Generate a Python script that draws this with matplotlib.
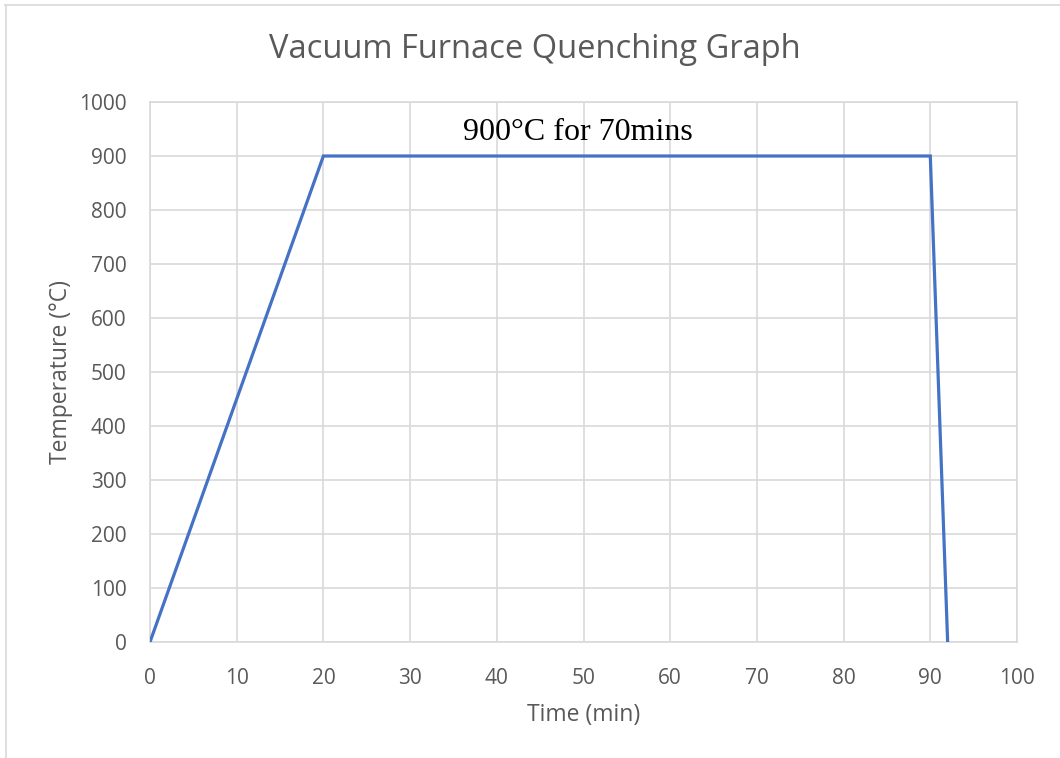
import matplotlib
matplotlib.use("Agg")
import matplotlib.pyplot as plt
from matplotlib.lines import Line2D

# Heat-treatment cycle: ramp up, soak, quench
time_min = [0, 20, 90, 92]
temp_c = [0, 900, 900, 0]

x_ticks = [0, 10, 20, 30, 40, 50, 60, 70, 80, 90, 100]
y_ticks = [0, 100, 200, 300, 400, 500, 600, 700, 800, 900, 1000]

title = "Vacuum Furnace Quenching Graph"
x_label = "Time (min)"
y_label = "Temperature (°C)"
note = "900°C for 70mins"

TEXT = "#595959"
GRID = "#D9D9D9"
LINE = "#4472C4"
FONT = "Open Sans"

fig = plt.figure(figsize=(10.6, 7.58), dpi=100)
ax = fig.add_axes([150 / 1060, 1 - 642 / 758, 867 / 1060, 540 / 758])

ax.plot(time_min, temp_c, color=LINE, lw=2.3, solid_capstyle="butt",
        solid_joinstyle="miter", zorder=3)

ax.set_xlim(0, 100)
ax.set_ylim(0, 1000)
ax.set_xticks(x_ticks)
ax.set_yticks(y_ticks)
ax.grid(True, color=GRID, lw=1.2)
ax.set_axisbelow(True)
for s in ax.spines.values():
    s.set_color(GRID)
    s.set_linewidth(1.2)
ax.tick_params(length=0, labelsize=15, labelcolor=TEXT)
ax.tick_params(axis="x", pad=19)
ax.tick_params(axis="y", pad=17)
for lab in ax.get_xticklabels() + ax.get_yticklabels():
    lab.set_fontfamily(FONT)

ax.set_xlabel(x_label, fontsize=16.5, color=TEXT, family=FONT, labelpad=10)
ax.set_ylabel(y_label, fontsize=16.5, color=TEXT, family=FONT, labelpad=4)

fig.text(535 / 1060, 1 - 50 / 758, title, ha="center", va="center",
         fontsize=23.5, color=TEXT, family=FONT)

ax.text(49.4, 930, note, ha="center", va="baseline", fontsize=23,
        family="Liberation Serif", color="black")

# outer chart-area frame (top and left edges)
fig.add_artist(Line2D([5 / 1060, 1], [1 - 5 / 758, 1 - 5 / 758],
                      transform=fig.transFigure, color=GRID, lw=1.2))
fig.add_artist(Line2D([5.5 / 1060, 5.5 / 1060], [0, 1 - 5 / 758],
                      transform=fig.transFigure, color=GRID, lw=1.2))

fig.savefig("out.png", dpi=100, facecolor="white")
